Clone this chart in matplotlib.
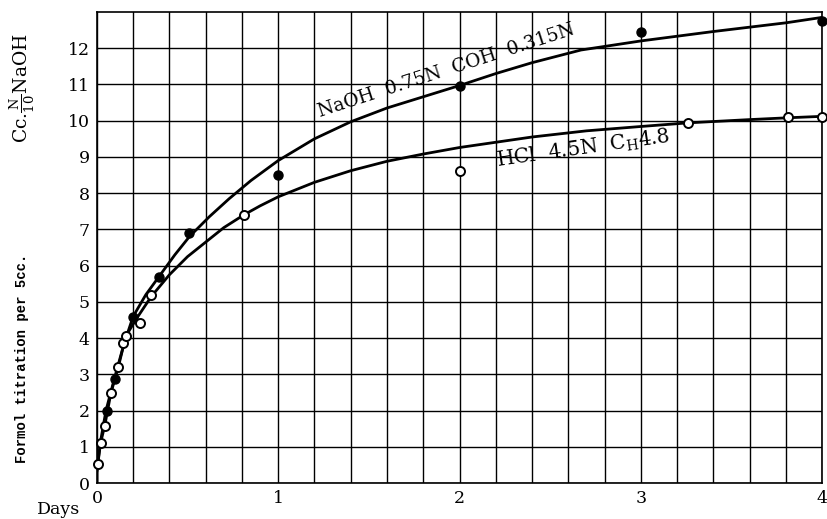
import numpy as np
import matplotlib
matplotlib.use("Agg")
import matplotlib.pyplot as plt

naoh_days = [0.055, 0.10, 0.20, 0.34, 0.51, 1.0, 2.0, 3.0, 4.0]
naoh_vals = [2.0, 2.87, 4.58, 5.7, 6.9, 8.5, 10.95, 12.45, 12.75]

hcl_days = [0.005, 0.02, 0.044, 0.077, 0.118, 0.145, 0.16, 0.24, 0.30, 0.81, 2.0, 3.26, 3.81, 4.0]
hcl_vals = [0.52, 1.1, 1.57, 2.48, 3.2, 3.87, 4.06, 4.42, 5.2, 7.4, 8.6, 9.94, 10.1, 10.1]

# hand-drawn smooth curves
naoh_curve_x = [0.0, 0.0, 0.005, 0.02, 0.05, 0.10, 0.15, 0.20, 0.27, 0.35, 0.43, 0.51, 0.62, 0.73,
                0.85, 1.0, 1.2, 1.4, 1.6, 1.8, 2.0, 2.2, 2.4, 2.67, 3.0, 3.4, 3.8, 4.0]
naoh_curve_y = [0.0, 0.3, 0.55, 1.15, 2.0, 2.95, 3.85, 4.6, 5.2, 5.75, 6.3, 6.8, 7.35, 7.85,
                8.35, 8.9, 9.5, 9.97, 10.35, 10.66, 10.97, 11.3, 11.6, 11.95, 12.2, 12.46, 12.7, 12.85]

hcl_curve_x = [0.0, 0.0, 0.005, 0.02, 0.044, 0.077, 0.118, 0.16, 0.22, 0.30, 0.40, 0.50, 0.60,
               0.70, 0.81, 0.9, 1.0, 1.2, 1.4, 1.6, 1.8, 2.0, 2.4, 2.7, 3.0, 3.26, 3.6, 3.81, 4.0]
hcl_curve_y = [0.0, 0.3, 0.52, 1.1, 1.6, 2.48, 3.2, 4.06, 4.55, 5.15, 5.75, 6.25, 6.65,
               7.05, 7.4, 7.65, 7.9, 8.3, 8.62, 8.88, 9.08, 9.26, 9.55, 9.72, 9.84, 9.94, 10.03, 10.08, 10.12]

x_ticks = [0, 1, 2, 3, 4]
y_ticks = list(range(0, 13))

serif = "DejaVu Serif"

fig = plt.figure(figsize=(8.28, 5.19), dpi=100)
ax = fig.add_axes([0.117, 0.069, 0.876, 0.908])

ax.set_xlim(0, 4)
ax.set_ylim(0, 13)

# grid paper: 0.2 day by 1 cc
ax.set_xticks(np.arange(0, 4.01, 0.2), minor=True)
ax.set_xticks(x_ticks)
ax.set_yticks(y_ticks)
ax.grid(True, which="both", color="black", linewidth=1.0)
ax.tick_params(which="both", length=0, pad=5)
ax.set_xticklabels([str(t) for t in x_ticks], fontsize=12.5, family=serif)
ax.set_yticklabels([str(t) for t in y_ticks], fontsize=12.5, family=serif)
for s in ax.spines.values():
    s.set_linewidth(1.2)

ax.plot(naoh_curve_x, naoh_curve_y, color="black", linewidth=2.0, zorder=3)
ax.plot(hcl_curve_x, hcl_curve_y, color="black", linewidth=2.0, zorder=3)

ax.plot(hcl_days, hcl_vals, "o", markersize=6.5, markerfacecolor="white",
        markeredgecolor="black", markeredgewidth=1.4, zorder=4, clip_on=False)
ax.plot(naoh_days, naoh_vals, "o", markersize=6.5, markerfacecolor="black",
        markeredgecolor="black", markeredgewidth=1.0, zorder=5, clip_on=False)

ax.text(1.24, 10.0, "NaOH  0.75N  COH  0.315N", rotation=18, fontsize=13.5,
        family=serif, ha="left", va="bottom", rotation_mode="anchor", zorder=6)
ax.text(2.21, 8.58, r"HCl  4.5N  C$_{\mathregular{H}}$4.8", rotation=8, fontsize=14.5,
        family=serif, ha="left", va="bottom", rotation_mode="anchor", zorder=6)

ax.text(-0.09, -0.72, "Days", fontsize=12.5, family=serif, ha="right", va="center",
        clip_on=False)

fig.text(0.027, 0.31, "Formol titration per 5cc.", rotation=90, fontsize=10,
         family="Liberation Mono", weight="bold", ha="center", va="center")
fig.text(0.027, 0.83, r"Cc.$\mathregular{\frac{N}{10}}$NaOH", rotation=90, fontsize=13.5,
         family=serif, ha="center", va="center")

fig.savefig("out.png", dpi=100)
